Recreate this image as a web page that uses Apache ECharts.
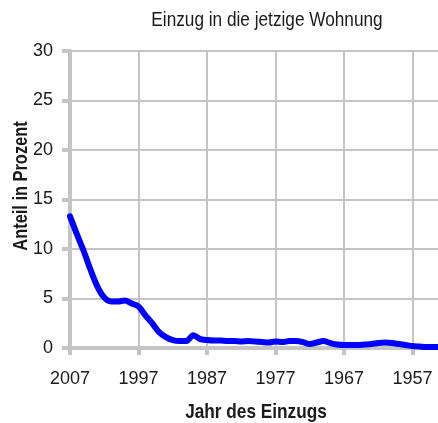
<!DOCTYPE html>
<html>
<head>
<meta charset="utf-8">
<script src="https://cdn.jsdelivr.net/npm/echarts@6/dist/echarts.min.js"></script>
<style>html,body{margin:0;padding:0;background:#fff}#c{width:438px;height:423px}</style>
</head>
<body>
<div id="c"></div>
<script>
var years = [2007,2006,2005,2004,2003,2002,2001,2000,1999,1998,1997,1996,1995,1994,1993,1992,1991,1990,1989,1988,1987,1986,1985,1984,1983,1982,1981,1980,1979,1978,1977,1976,1975,1974,1973,1972,1971,1970,1969,1968,1967,1966,1965,1964,1963,1962,1961,1960,1959,1958,1957,1956,1955,1954,1953];
var shares = [13.3,11.5,9.8,7.9,6.2,5.1,4.7,4.7,4.8,4.5,4.2,3.3,2.5,1.6,1.1,0.8,0.7,0.7,1.3,0.9,0.8,0.75,0.75,0.7,0.7,0.65,0.7,0.65,0.6,0.55,0.65,0.6,0.7,0.7,0.6,0.4,0.55,0.7,0.5,0.35,0.3,0.3,0.3,0.35,0.4,0.5,0.55,0.5,0.4,0.3,0.2,0.15,0.1,0.1,0.1];
var yTicks = [0,5,10,15,20,25,30];
var xTicks = [2007,1997,1987,1977,1967,1957,1947];
var titleText = 'Einzug in die jetzige Wohnung';
var xName = 'Jahr des Einzugs';
var yName = 'Anteil in Prozent';

var FONT = '"Liberation Sans Narrow","Liberation Sans",Arial,sans-serif';
var GRAY = '#c4c4c4';
var TXT = '#1a1a1a';
var chart = echarts.init(document.getElementById('c'), null, {renderer:'canvas'});
chart.setOption({
  animation: false,
  backgroundColor: '#fff',
  graphic: [
    {type: 'text', x: 267, y: 20, scaleX: 0.82,
     style: {text: titleText, fontFamily: FONT, fontSize: 21, fontWeight: 'normal', fill: TXT,
             align: 'center', verticalAlign: 'middle'}},
    {type: 'text', x: 256, y: 412, scaleX: 0.82,
     style: {text: xName, fontFamily: FONT, fontSize: 21, fontWeight: 'bold', fill: TXT,
             align: 'center', verticalAlign: 'middle'}},
    {type: 'text', x: 21, y: 186, rotation: Math.PI/2, scaleX: 0.82,
     style: {text: yName, fontFamily: FONT, fontSize: 20, fontWeight: 'bold', fill: TXT,
             align: 'center', verticalAlign: 'middle'}}
  ],
  grid: {left: 70, top: 51, bottom: 75, right: -43, containLabel: false, outerBoundsMode: 'none'},
  xAxis: {
    type: 'value', inverse: true, min: xTicks[xTicks.length-1], max: xTicks[0], interval: 10,
    axisLine: {show: true, lineStyle: {color: GRAY, width: 4}},
    axisTick: {show: true, length: 7, lineStyle: {color: GRAY, width: 4}},
    splitLine: {show: true, lineStyle: {color: GRAY, width: 2}},
    axisLabel: {margin: 22, fontFamily: FONT, fontSize: 18, color: TXT,
      formatter: function(v){return String(v);}}
  },
  yAxis: {
    type: 'value', min: yTicks[0], max: yTicks[yTicks.length-1], interval: 5,
    axisLine: {show: true, lineStyle: {color: GRAY, width: 4}},
    axisTick: {show: true, length: 8, lineStyle: {color: GRAY, width: 4}},
    splitLine: {show: true, lineStyle: {color: GRAY, width: 2}},
    axisLabel: {margin: 17, fontFamily: FONT, fontSize: 18, color: TXT}
  },
  series: [{
    type: 'line', data: years.map(function(y,i){return [y, shares[i]];}),
    showSymbol: false, smooth: 0.3, clip: true,
    lineStyle: {color: '#0000ff', width: 6, cap: 'round', join: 'round'},
    z: 5
  }]
});
</script>
</body>
</html>
